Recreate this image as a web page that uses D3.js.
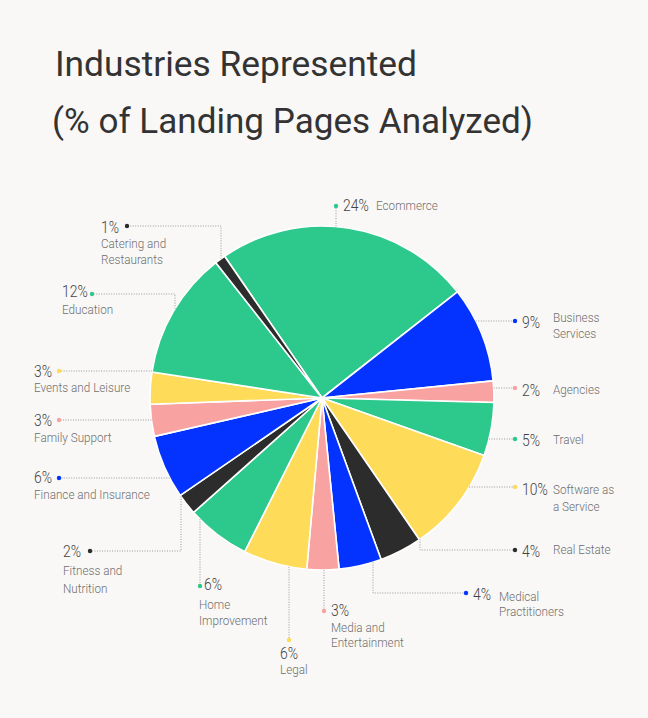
<!DOCTYPE html>
<html>
<head>
<meta charset="utf-8">
<script src="https://cdn.jsdelivr.net/npm/d3@7"></script>
<style>
  html, body { margin: 0; padding: 0; background: #f9f8f6; }
  svg { display: block; }
</style>
</head>
<body>
<svg id="chart" width="648" height="718"></svg>
<script>
// ---- Data ----
const categories = [
  "Ecommerce", "Business Services", "Agencies", "Travel", "Software as a Service",
  "Real Estate", "Medical Practitioners", "Media and Entertainment", "Legal",
  "Home Improvement", "Fitness and Nutrition", "Finance and Insurance",
  "Family Support", "Events and Leisure", "Education", "Catering and Restaurants"
];
const values = [24, 9, 2, 5, 10, 4, 4, 3, 6, 6, 2, 6, 3, 3, 12, 1];
const colorKeys = ["green", "blue", "pink", "green", "yellow", "black", "blue", "pink",
  "yellow", "green", "black", "blue", "pink", "yellow", "green", "black"];
const titleLines = ["Industries Represented", "(% of Landing Pages Analyzed)"];

// ---- Styling / layout ----
const palette = { green: "#2dc98c", blue: "#0433ff", pink: "#f9a2a2", yellow: "#fedb59", black: "#2c2c2c" };
const cx = 322, cy = 398, R = 172;
const startDeg = -34.5;

// label layout: leader kind, anchor coordinates, text positions
const layout = [
  { kind: "v", x: 336, dotY: 206, pct: [343, 205], name: [376, [205]], wrap: 0 },
  { kind: "h", y: 321, dotX: 515, pct: [522, 322], name: [553, [317, 333]], wrap: 1 },
  { kind: "h", y: 388, dotX: 515, pct: [522, 390], name: [553, [389]], wrap: 0 },
  { kind: "h", y: 439, dotX: 515, pct: [522, 440], name: [553, [439]], wrap: 0 },
  { kind: "h", y: 487, dotX: 515, pct: [522, 489], name: [553, [489, 506]], wrap: 2 },
  { kind: "e", x: 420, y: 550, dotX: 515, pct: [522, 551], name: [553, [549]], wrap: 0 },
  { kind: "e", x: 373, y: 593, dotX: 466, pct: [473, 594], name: [499, [596, 611]], wrap: 1 },
  { kind: "v", x: 324, dotY: 611, pct: [331, 610], name: [331, [627, 642]], wrap: 2 },
  { kind: "v", x: 289, dotY: 640, pct: [280, 653], name: [280, [669]], wrap: 0 },
  { kind: "v", x: 200, dotY: 586, pct: [204, 584], name: [199, [604, 620]], wrap: 1 },
  { kind: "e", x: 181, y: 551, dotX: 90, pct: [63, 551], name: [63, [570, 588]], wrap: 2 },
  { kind: "h", y: 478, dotX: 59, pct: [34, 477], name: [34, [494]], wrap: 0 },
  { kind: "h", y: 420, dotX: 59, pct: [34, 420], name: [34, [437]], wrap: 0 },
  { kind: "h", y: 371, dotX: 59, pct: [34, 371], name: [34, [387]], wrap: 0 },
  { kind: "e", x: 175, y: 294, dotX: 92, pct: [62, 291], name: [62, [309]], wrap: 0 },
  { kind: "e", x: 221, y: 226, dotX: 127, pct: [101, 227], name: [101, [243, 259]], wrap: 2 }
];

const svg = d3.select("#chart");
svg.append("rect").attr("width", 648).attr("height", 718).attr("fill", "#f9f8f6");

// ---- Title ----
const titleFont = "Roboto, 'Noto Sans', sans-serif";
const tpos = [[55, 76, 362], [52, 133, 481]];
titleLines.forEach((t, i) => {
  svg.append("text")
    .attr("x", tpos[i][0]).attr("y", tpos[i][1])
    .attr("textLength", tpos[i][2]).attr("lengthAdjust", "spacingAndGlyphs")
    .attr("font-family", titleFont).attr("font-weight", 400)
    .attr("font-size", 35).attr("fill", "#333")
    .text(t);
});

// ---- Pie ----
const data = categories.map((c, i) => ({ name: c, value: values[i], color: palette[colorKeys[i]], lay: layout[i] }));
const a0 = startDeg * Math.PI / 180;
const pie = d3.pie().sort(null).value(d => d.value).startAngle(a0).endAngle(a0 + 2 * Math.PI);
const arc = d3.arc().innerRadius(0).outerRadius(R);
const g = svg.append("g").attr("transform", `translate(${cx},${cy})`);
g.selectAll("path").data(pie(data)).join("path")
  .attr("d", arc)
  .attr("fill", d => d.data.color)
  .attr("stroke", "#ffffff")
  .attr("stroke-width", 1.6)
  .attr("stroke-linejoin", "round");

// ---- Leaders & labels ----
function edgeX(y, dir) { return cx + dir * Math.sqrt(R * R - (y - cy) * (y - cy)); }
function edgeY(x, dir) { return cy + dir * Math.sqrt(R * R - (x - cx) * (x - cx)); }
function squeeze(sel, f) {
  const n = sel.node();
  const w = n.getComputedTextLength();
  sel.attr("textLength", w * f).attr("lengthAdjust", "spacingAndGlyphs");
}

const lf = "Roboto, 'Noto Sans', sans-serif";
const labels = svg.append("g");
data.forEach(d => {
  const L = d.lay;
  let pts, dot;
  if (L.kind === "h") {
    const dir = L.dotX > cx ? 1 : -1;
    pts = [[edgeX(L.y, dir), L.y], [L.dotX, L.y]];
    dot = [L.dotX, L.y];
  } else if (L.kind === "v") {
    const dir = L.dotY > cy ? 1 : -1;
    pts = [[L.x, edgeY(L.x, dir)], [L.x, L.dotY]];
    dot = [L.x, L.dotY];
  } else {
    const dir = L.y > cy ? 1 : -1;
    pts = [[L.x, edgeY(L.x, dir)], [L.x, L.y], [L.dotX, L.y]];
    dot = [L.dotX, L.y];
  }
  labels.append("path")
    .attr("d", d3.line()(pts))
    .attr("fill", "none").attr("stroke", "#9a9a9a")
    .attr("stroke-width", 1).attr("stroke-dasharray", "1,1.5");
  labels.append("circle").attr("cx", dot[0]).attr("cy", dot[1]).attr("r", 2.2).attr("fill", d.color);

  const pt = labels.append("text")
    .attr("x", L.pct[0]).attr("y", L.pct[1]).attr("dy", "0.36em")
    .attr("font-family", lf).attr("font-weight", 300).attr("font-size", 16)
    .attr("fill", "#444").text(d.value + "%");
  squeeze(pt, 0.87);

  const words = d.name.split(" ");
  const lines = L.wrap ? [words.slice(0, L.wrap).join(" "), words.slice(L.wrap).join(" ")] : [d.name];
  lines.forEach((ln, j) => {
    const nt = labels.append("text")
      .attr("x", L.name[0]).attr("y", L.name[1][j]).attr("dy", "0.36em")
      .attr("font-family", lf).attr("font-weight", 300).attr("font-size", 13)
      .attr("fill", "#6f6f6f").text(ln);
    squeeze(nt, 0.9);
  });
});
</script>
</body>
</html>
